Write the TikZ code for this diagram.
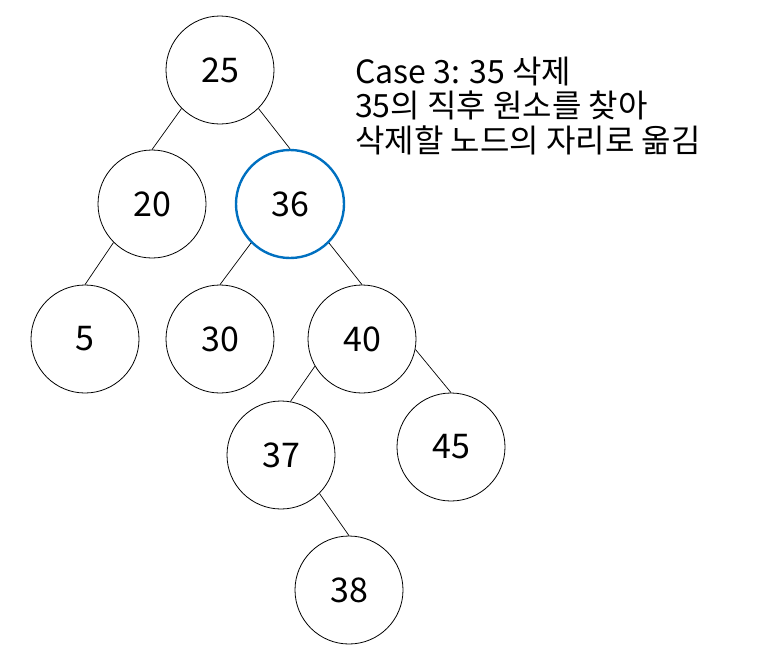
\documentclass[tikz,border=0pt]{standalone}
\usepackage{fontspec}
\setmainfont{Noto Sans CJK KR}
\definecolor{selblue}{HTML}{0070C0}
\begin{document}
\begin{tikzpicture}[x=1pt,y=-1pt,
  treenode/.style={circle,draw=black,line width=0.8pt,minimum size=108pt,inner sep=0pt,font=\fontsize{34}{34}\selectfont},
  selnode/.style={treenode,draw=selblue,line width=2.4pt},
  edge/.style={draw=black,line width=0.7pt},
  caption/.style={anchor=base west,inner sep=0pt,font=\fontsize{32}{34}\selectfont}]
\useasboundingbox (0,0) rectangle (760,649);
\node[treenode] (n25) at (220,70) {25};
\node[treenode] (n20) at (152,204) {20};
\node[selnode] (n36) at (290,204) {36};
\node[treenode] (n5) at (85,339) {5};
\node[treenode] (n30) at (220,339) {30};
\node[treenode] (n40) at (362,339) {40};
\node[treenode] (n37) at (281,455) {37};
\node[treenode] (n45) at (451,447) {45};
\node[treenode] (n38) at (349,590) {38};
\draw[edge] (n25.225) -- (n20.north);
\draw[edge] (n25.315) -- (n36.north);
\draw[edge] (n20.225) -- (n5.north);
\draw[edge] (n36.225) -- (n30.north);
\draw[edge] (n36.315) -- (n40.north);
\draw[edge] (n40.210) -- (n37.80);
\draw[edge] (n40.349) -- (n45.north);
\draw[edge] (n37.315) -- (n38.north);
\node[caption] (t1) at (355,83) {Case 3: 35 삭제};
\node[caption] (t2) at (355,117) {35의 직후 원소를 찾아};
\node[caption] (t3) at (355,152) {삭제할 노드의 자리로 옮김};
\end{tikzpicture}
\end{document}
